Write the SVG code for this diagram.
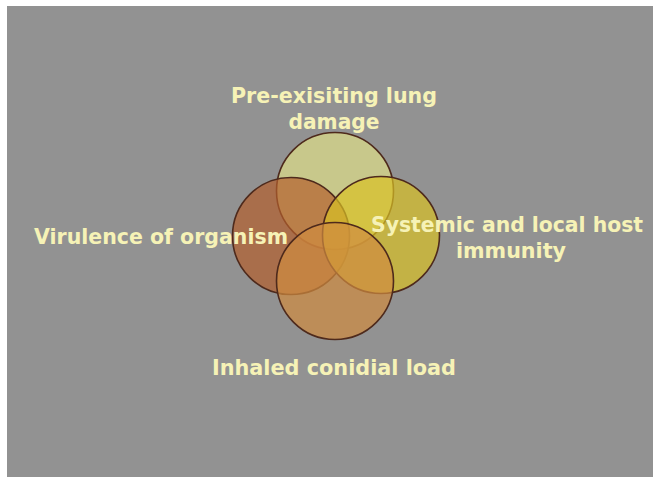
<svg xmlns="http://www.w3.org/2000/svg" width="653" height="477" viewBox="0 0 653 477">
<style>
.c{stroke:#4e2a1c;stroke-width:1.6;fill-opacity:0.7}
.t{font-family:"DejaVu Sans","Liberation Sans",sans-serif;font-weight:bold;font-size:22px;fill:#f6f2b6;text-anchor:middle}
.s{font-size:20.5px}
</style>
<rect x="0" y="0" width="653" height="477" fill="#ffffff"/>
<rect x="7" y="6" width="646" height="471" fill="#929292"/>
<g id="circle-top"><circle class="c" cx="335" cy="191" r="58.5" fill="#dfdf89"/></g>
<g id="circle-left"><circle class="c" cx="291" cy="236" r="58.5" fill="#b45f2d"/></g>
<g id="circle-right"><circle class="c" cx="381" cy="235" r="58.5" fill="#d8c025"/></g>
<g id="circle-bottom"><circle class="c" cx="335" cy="281" r="58.5" fill="#d08c40"/></g>
<g id="connectors"></g>
<g id="label-top">
<text class="t" x="334" y="103" textLength="206" lengthAdjust="spacingAndGlyphs">Pre-exisiting lung</text>
<text class="t" x="334" y="129" textLength="91" lengthAdjust="spacingAndGlyphs">damage</text>
</g>
<g id="label-left"><text class="t" x="161" y="244" textLength="254" lengthAdjust="spacingAndGlyphs">Virulence of organism</text></g>
<g id="label-right">
<text class="t s" x="507" y="232" textLength="272" lengthAdjust="spacingAndGlyphs">Systemic and local host</text>
<text class="t" x="511" y="258" textLength="110" lengthAdjust="spacingAndGlyphs">immunity</text>
</g>
<g id="label-bottom"><text class="t" x="334" y="375" textLength="244" lengthAdjust="spacingAndGlyphs">Inhaled conidial load</text></g>
</svg>
